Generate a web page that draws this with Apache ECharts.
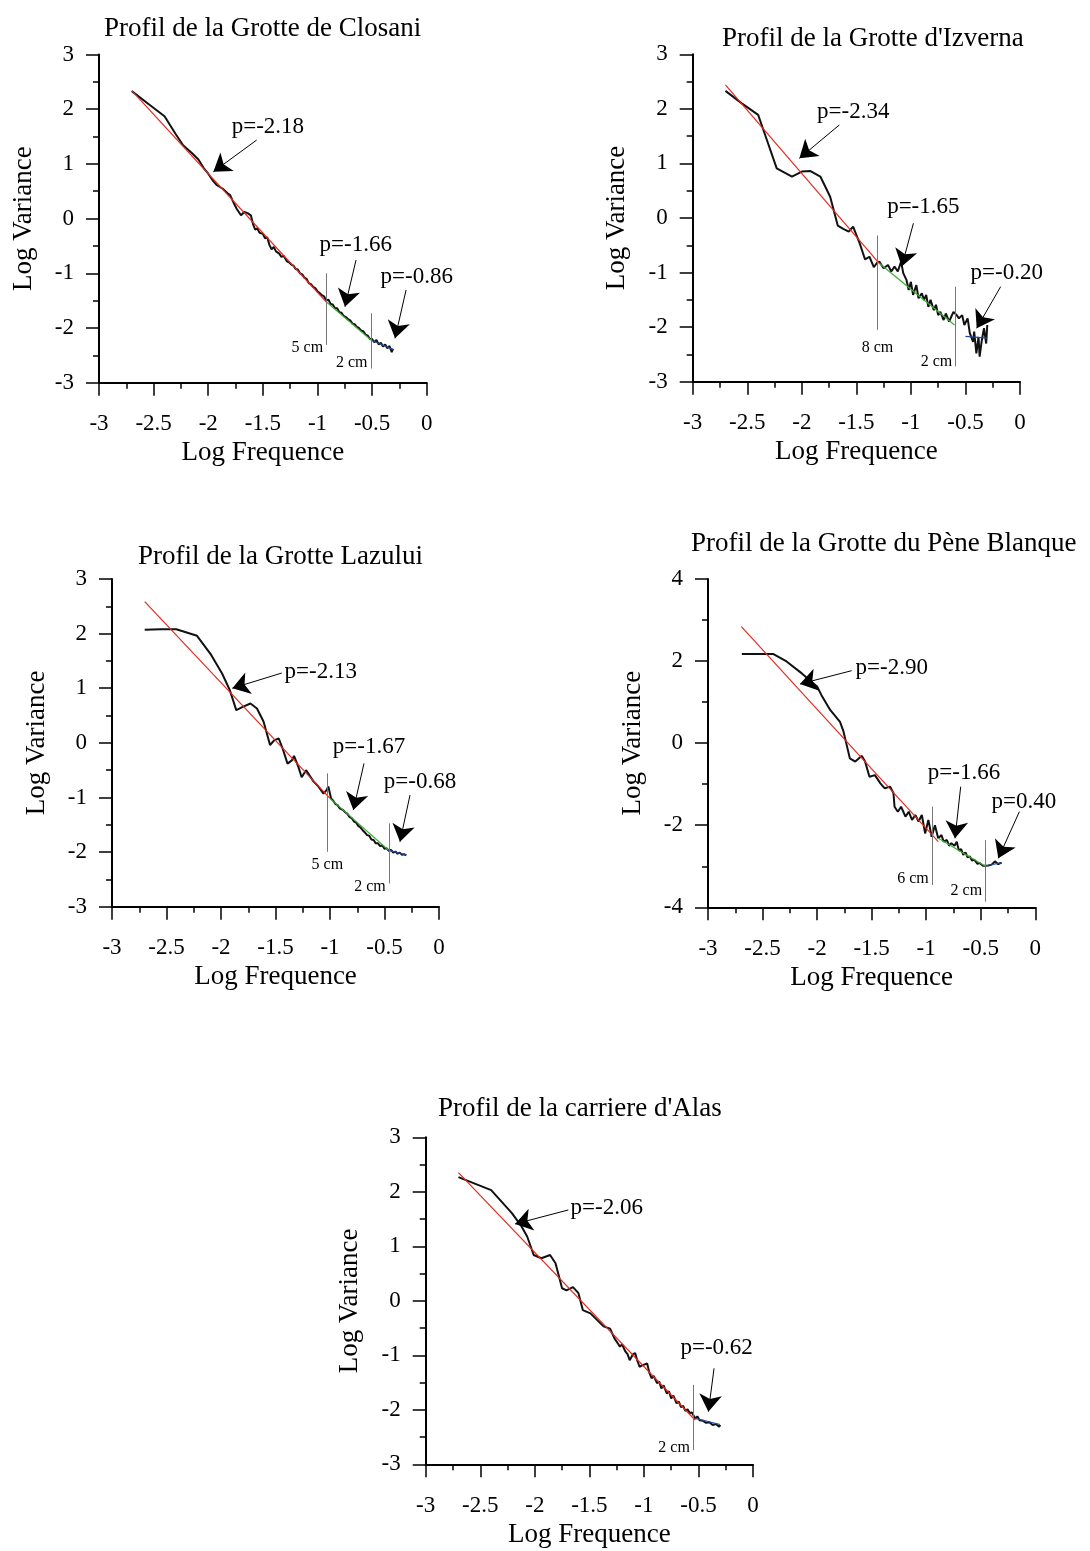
<!DOCTYPE html>
<html><head><meta charset="utf-8">
<script src="https://cdn.jsdelivr.net/npm/echarts@6.0.0/dist/echarts.min.js"></script>
<style>html,body{margin:0;padding:0;background:#fff}#c{width:1090px;height:1551px}</style>
</head><body><div id="c"></div><script>
// ---------- DATA ----------
const titles = ["Profil de la Grotte de Closani","Profil de la Grotte d'Izverna","Profil de la Grotte Lazului","Profil de la Grotte du Pène Blanque","Profil de la carriere d'Alas"];
const xName = "Log Frequence";
const yName = "Log Variance";

// Closani
const closaniCurve = [[-2.70,2.33],[-2.55,2.10],[-2.40,1.87],[-2.30,1.55],[-2.23,1.34],[-2.15,1.20],[-2.09,1.08],[-2.04,0.92],[-2.00,0.82],[-1.96,0.70],[-1.92,0.61],[-1.87,0.55],[-1.82,0.46],[-1.80,0.43],[-1.77,0.30],[-1.74,0.18],[-1.70,0.06],[-1.67,0.12],[-1.64,0.10],[-1.61,0.06],[-1.59,-0.10],[-1.57,-0.20],[-1.55,-0.18],[-1.53,-0.26],[-1.50,-0.28],[-1.48,-0.36],[-1.46,-0.34],[-1.44,-0.48],[-1.42,-0.56],[-1.40,-0.52],[-1.38,-0.60],[-1.35,-0.64],[-1.33,-0.70],[-1.31,-0.68],[-1.28,-0.78],[-1.26,-0.80],[-1.24,-0.84],[-1.22,-0.86],[-1.20,-0.92],[-1.18,-0.93],[-1.16,-1.00],[-1.14,-1.02],[-1.12,-1.08],[-1.10,-1.10],[-1.08,-1.18],[-1.06,-1.20],[-1.04,-1.25],[-1.02,-1.27],[-1.00,-1.33],[-0.98,-1.36],[-0.96,-1.40],[-0.94,-1.42],[-0.92,-1.50],[-0.90,-1.48],[-0.88,-1.56],[-0.86,-1.57],[-0.84,-1.64],[-0.82,-1.64],[-0.80,-1.71],[-0.78,-1.72],[-0.76,-1.78],[-0.74,-1.80],[-0.72,-1.84],[-0.70,-1.86],[-0.68,-1.92],[-0.66,-1.93],[-0.64,-1.98],[-0.62,-2.00],[-0.60,-2.05],[-0.58,-2.06],[-0.56,-2.12],[-0.54,-2.14],[-0.52,-2.20],[-0.50,-2.20],[-0.48,-2.26],[-0.46,-2.22],[-0.44,-2.30],[-0.42,-2.27],[-0.40,-2.34],[-0.38,-2.30],[-0.36,-2.37],[-0.34,-2.33],[-0.32,-2.44],[-0.31,-2.38]];
const closaniRed = [[-2.70,2.34],[-0.92,-1.52]];
const closaniGreen = [[-0.92,-1.52],[-0.51,-2.22]];
const closaniBlue = [[-0.51,-2.22],[-0.30,-2.40]];
const closaniBreaks = [[-0.916,-1.0,-2.31],[-0.51,-1.73,-2.74]];
const closaniArrows = [[-1.557,1.435,-1.953,0.856],[-0.647,-0.758,-0.748,-1.61],[-0.189,-1.306,-0.29,-2.189]];
const closaniNotes = [[-1.454,1.675,'p=-2.18'],[-0.649,-0.483,'p=-1.66'],[-0.091,-1.068,'p=-0.86']];
const closaniCm = [[-0.916,-2.36,'5 cm','left'],[-0.51,-2.645,'2 cm','left']];

// Izverna
const izvernaCurve = [[-2.70,2.33],[-2.55,2.10],[-2.40,1.89],[-2.32,1.43],[-2.23,0.91],[-2.09,0.76],[-2.00,0.85],[-1.92,0.86],[-1.83,0.76],[-1.74,0.39],[-1.67,-0.14],[-1.62,-0.20],[-1.57,-0.25],[-1.53,-0.16],[-1.47,-0.46],[-1.42,-0.76],[-1.38,-0.71],[-1.34,-0.90],[-1.31,-0.82],[-1.29,-0.80],[-1.25,-0.92],[-1.21,-0.86],[-1.18,-0.98],[-1.15,-0.89],[-1.12,-0.98],[-1.09,-0.80],[-1.07,-1.01],[-1.04,-1.14],[-1.02,-1.32],[-1.00,-1.17],[-0.98,-1.41],[-0.95,-1.23],[-0.93,-1.47],[-0.90,-1.38],[-0.88,-1.50],[-0.86,-1.41],[-0.84,-1.63],[-0.82,-1.50],[-0.79,-1.69],[-0.77,-1.59],[-0.75,-1.78],[-0.73,-1.72],[-0.70,-1.87],[-0.68,-1.75],[-0.65,-1.90],[-0.63,-1.81],[-0.61,-1.72],[-0.58,-1.78],[-0.56,-1.84],[-0.53,-1.78],[-0.51,-1.96],[-0.48,-1.84],[-0.46,-2.11],[-0.43,-2.27],[-0.42,-2.08],[-0.40,-2.48],[-0.38,-2.18],[-0.37,-2.54],[-0.35,-2.24],[-0.33,-2.02],[-0.31,-2.30],[-0.30,-1.96]];
const izvernaRed = [[-2.70,2.44],[-1.29,-0.83]];
const izvernaGreen = [[-1.29,-0.83],[-0.60,-1.96]];
const izvernaBlue = [[-0.50,-2.17],[-0.30,-2.20]];
const izvernaBreaks = [[-1.307,-0.32,-2.05],[-0.589,-1.26,-2.72]];
const izvernaArrows = [[-1.656,1.705,-2.022,1.094],[-0.977,-0.097,-1.084,-0.891],[-0.177,-1.258,-0.397,-2.021]];
const izvernaNotes = [[-1.528,1.948,'p=-2.34'],[-0.886,0.207,'p=-1.65'],[-0.122,-1.013,'p=-0.20']];
const izvernaCm = [[-1.307,-2.382,'8 cm','center'],[-0.589,-2.633,'2 cm','left']];

// Lazului
const lazuluiCurve = [[-2.70,2.07],[-2.55,2.08],[-2.41,2.08],[-2.22,1.96],[-2.09,1.61],[-1.99,1.27],[-1.92,0.97],[-1.86,0.60],[-1.80,0.66],[-1.73,0.72],[-1.67,0.63],[-1.61,0.39],[-1.55,-0.04],[-1.51,0.05],[-1.47,0.08],[-1.43,-0.13],[-1.39,-0.38],[-1.35,-0.32],[-1.33,-0.24],[-1.29,-0.44],[-1.26,-0.63],[-1.22,-0.50],[-1.19,-0.59],[-1.15,-0.71],[-1.11,-0.79],[-1.06,-0.93],[-1.03,-0.86],[-1.015,-0.80],[-0.99,-1.02],[-0.97,-1.06],[-0.95,-1.12],[-0.93,-1.14],[-0.91,-1.20],[-0.88,-1.23],[-0.86,-1.27],[-0.84,-1.30],[-0.82,-1.36],[-0.80,-1.38],[-0.78,-1.44],[-0.76,-1.46],[-0.74,-1.52],[-0.72,-1.55],[-0.70,-1.60],[-0.68,-1.64],[-0.66,-1.69],[-0.64,-1.70],[-0.62,-1.77],[-0.60,-1.78],[-0.58,-1.84],[-0.56,-1.84],[-0.54,-1.89],[-0.52,-1.88],[-0.50,-1.94],[-0.48,-1.93],[-0.46,-1.98],[-0.44,-1.96],[-0.42,-2.01],[-0.40,-1.99],[-0.38,-2.03],[-0.36,-2.01],[-0.34,-2.05],[-0.32,-2.04],[-0.30,-2.06]];
const lazuluiRed = [[-2.70,2.585],[-1.0,-1.017]];
const lazuluiGreen = [[-1.0,-1.017],[-0.465,-1.963]];
const lazuluiBlue = [[-0.465,-1.963],[-0.30,-2.055]];
const lazuluiBreaks = [[-1.024,-0.559,-1.994],[-0.456,-1.475,-2.574]];
const lazuluiArrows = [[-1.443,1.278,-1.896,1.0],[-0.688,-0.376,-0.786,-1.231],[-0.266,-0.956,-0.358,-1.811]];
const lazuluiNotes = [[-1.085,1.302,'p=-2.13'],[-0.642,-0.071,'p=-1.67'],[-0.174,-0.712,'p=-0.68']];
const lazuluiCm = [[-1.024,-2.238,'5 cm','center'],[-0.456,-2.635,'2 cm','left']];

// Pene Blanque
const peneCurve = [[-2.69,2.17],[-2.55,2.17],[-2.40,2.17],[-2.28,1.99],[-2.14,1.70],[-2.00,1.38],[-1.96,1.17],[-1.88,0.81],[-1.79,0.52],[-1.76,0.30],[-1.74,0.08],[-1.70,-0.37],[-1.65,-0.45],[-1.59,-0.31],[-1.56,-0.45],[-1.52,-0.82],[-1.47,-0.78],[-1.42,-0.98],[-1.38,-1.10],[-1.33,-1.06],[-1.30,-1.22],[-1.29,-1.55],[-1.26,-1.67],[-1.23,-1.55],[-1.19,-1.79],[-1.16,-1.67],[-1.13,-1.87],[-1.10,-1.75],[-1.07,-1.91],[-1.04,-1.75],[-1.01,-2.20],[-0.98,-1.87],[-0.95,-2.28],[-0.92,-2.00],[-0.89,-2.32],[-0.86,-2.24],[-0.84,-2.40],[-0.81,-2.36],[-0.79,-2.50],[-0.77,-2.44],[-0.74,-2.50],[-0.72,-2.40],[-0.70,-2.62],[-0.68,-2.58],[-0.66,-2.72],[-0.64,-2.66],[-0.62,-2.78],[-0.60,-2.76],[-0.58,-2.86],[-0.56,-2.84],[-0.53,-2.94],[-0.51,-2.92],[-0.48,-2.99],[-0.46,-2.99],[-0.43,-2.98],[-0.40,-2.96],[-0.37,-2.88],[-0.34,-2.95],[-0.31,-2.91]];
const peneRed = [[-2.694,2.838],[-0.889,-2.401]];
const peneGreen = [[-0.889,-2.32],[-0.461,-2.994]];
const peneBlue = [[-0.461,-2.994],[-0.308,-2.913]];
const peneBreaks = [[-0.944,-1.548,-3.457],[-0.455,-2.361,-3.863]];
const peneArrows = [[-1.683,1.766,-2.157,1.441],[-0.684,-1.061,-0.736,-2.32],[-0.146,-1.67,-0.339,-2.807]];
const peneNotes = [[-1.316,1.824,'p=-2.90'],[-0.653,-0.734,'p=-1.66'],[-0.104,-1.426,'p=0.40']];
const peneCm = [[-0.944,-3.317,'6 cm','left'],[-0.455,-3.595,'2 cm','left']];

// Alas
const alasCurve = [[-2.70,2.27],[-2.55,2.15],[-2.40,2.03],[-2.21,1.61],[-2.12,1.36],[-2.07,1.18],[-2.01,0.84],[-1.94,0.78],[-1.86,0.84],[-1.81,0.69],[-1.75,0.23],[-1.71,0.19],[-1.65,0.25],[-1.60,0.14],[-1.56,-0.17],[-1.49,-0.23],[-1.43,-0.35],[-1.37,-0.47],[-1.31,-0.51],[-1.29,-0.60],[-1.27,-0.69],[-1.24,-0.78],[-1.22,-0.84],[-1.20,-0.80],[-1.17,-0.93],[-1.15,-0.98],[-1.13,-1.09],[-1.10,-0.98],[-1.08,-0.96],[-1.06,-1.10],[-1.04,-1.21],[-1.01,-1.18],[-0.97,-1.15],[-0.95,-1.32],[-0.93,-1.42],[-0.91,-1.38],[-0.88,-1.51],[-0.86,-1.48],[-0.84,-1.61],[-0.82,-1.55],[-0.79,-1.70],[-0.77,-1.66],[-0.75,-1.79],[-0.73,-1.74],[-0.70,-1.88],[-0.68,-1.85],[-0.66,-1.95],[-0.64,-1.93],[-0.62,-2.02],[-0.60,-1.99],[-0.58,-2.06],[-0.56,-2.05],[-0.53,-2.16],[-0.51,-2.12],[-0.49,-2.19],[-0.46,-2.20],[-0.43,-2.24],[-0.40,-2.23],[-0.37,-2.28],[-0.34,-2.26],[-0.31,-2.31],[-0.30,-2.28]];
const alasRed = [[-2.70,2.352],[-0.531,-2.187]];
const alasGreen = [];
const alasBlue = [[-0.531,-2.156],[-0.302,-2.27]];
const alasBreaks = [[-0.547,-1.544,-2.737]];
const alasArrows = [[-1.692,1.667,-2.181,1.41],[-0.357,-1.239,-0.409,-2.034]];
const alasNotes = [[-1.341,1.697,'p=-2.06'],[-0.333,-0.872,'p=-0.62']];
const alasCm = [[-0.547,-2.70,'2 cm','left']];

const yRanges = [[-3,3,1],[-3,3,1],[-3,3,1],[-4,4,2],[-3,3,1]];

// ---------- LAYOUT ----------
const FONT = "'Liberation Serif','Times New Roman',serif";
const grids = [[99,54.5,327.7,328.2],[692.7,54.3,327.3,327.4],[112,579,327,327.7],[708,579,327.3,328.3],[425.7,1137.3,327.3,327]];
const titlePos = [[104,15],[722,25],[138,543],[691,530],[438,1095]];

const chart = echarts.init(document.getElementById('c'), null, {renderer:'canvas'});

function xAx(i){
  return {type:'value', gridIndex:i, min:-3, max:0, interval:0.5,
    axisLine:{show:true,onZero:false,lineStyle:{color:'#000',width:2}},
    axisTick:{show:true,length:13,lineStyle:{color:'#000',width:1.5}},
    minorTick:{show:true,splitNumber:2,length:6,lineStyle:{color:'#000',width:1.5}},
    splitLine:{show:false}, minorSplitLine:{show:false},
    axisLabel:{margin:30,fontSize:23,fontFamily:FONT,color:'#000'},
    name:xName, nameLocation:'middle', nameGap:57,
    nameTextStyle:{fontSize:27,fontFamily:FONT,color:'#000'}};
}
function yAx(i){
  const r = yRanges[i];
  return {type:'value', gridIndex:i, min:r[0], max:r[1], interval:r[2],
    axisLine:{show:true,onZero:false,lineStyle:{color:'#000',width:2}},
    axisTick:{show:true,length:13,lineStyle:{color:'#000',width:1.5}},
    minorTick:{show:true,splitNumber:2,length:6,lineStyle:{color:'#000',width:1.5}},
    splitLine:{show:false}, minorSplitLine:{show:false},
    axisLabel:{margin:25,fontSize:23,fontFamily:FONT,color:'#000'},
    name:yName, nameLocation:'middle', nameGap:62,
    nameTextStyle:{fontSize:27,fontFamily:FONT,color:'#000'}};
}

const labelBase = {fontFamily:FONT, color:'#000', opacity:1, textBorderWidth:0, textShadowBlur:0};

function panel(i, curve, red, green, blue, breaks, arrows, notes, cms){
  const ax = {xAxisIndex:i, yAxisIndex:i};
  const s = [];
  s.push({type:'line', ...ax, data:curve, symbol:'none', lineStyle:{color:'#111',width:2}, z:2});
  const fits = [[red,'#e8281e'],[green,'#3fae35'],[blue,'#1f4aa0']];
  fits.forEach(f=>{ if(f[0].length) s.push({type:'line', ...ax, data:f[0], symbol:'none', lineStyle:{color:f[1],width:1.2}, z:3}); });
  s.push({type:'lines', coordinateSystem:'cartesian2d', ...ax, z:4,
    data:breaks.map(b=>({coords:[[b[0],b[1]],[b[0],b[2]]]})),
    lineStyle:{color:'#777',width:1,opacity:1}});
  s.push({type:'lines', coordinateSystem:'cartesian2d', ...ax, z:5,
    symbol:['none','arrow'], symbolSize:17,
    data:arrows.map(a=>({coords:[[a[0],a[1]],[a[2],a[3]]]})),
    lineStyle:{color:'#000',width:1,opacity:1}});
  s.push({type:'scatter', ...ax, z:6, symbolSize:1, itemStyle:{color:'#fff', opacity:0},
    data:notes.map(n=>({value:[n[0],n[1]], name:n[2]})),
    label:{show:true, position:'inside', formatter:p=>p.name, fontSize:23, ...labelBase}});
  s.push({type:'scatter', ...ax, z:6, symbolSize:1, itemStyle:{color:'#fff', opacity:0},
    data:cms.map(n=>({value:[n[0],n[1]], name:n[2], label:{position:n[3]==='left'?'left':'inside', distance:3}})),
    label:{show:true, formatter:p=>p.name, fontSize:16, ...labelBase}});
  return s;
}

const series = [].concat(
  panel(0, closaniCurve, closaniRed, closaniGreen, closaniBlue, closaniBreaks, closaniArrows, closaniNotes, closaniCm),
  panel(1, izvernaCurve, izvernaRed, izvernaGreen, izvernaBlue, izvernaBreaks, izvernaArrows, izvernaNotes, izvernaCm),
  panel(2, lazuluiCurve, lazuluiRed, lazuluiGreen, lazuluiBlue, lazuluiBreaks, lazuluiArrows, lazuluiNotes, lazuluiCm),
  panel(3, peneCurve, peneRed, peneGreen, peneBlue, peneBreaks, peneArrows, peneNotes, peneCm),
  panel(4, alasCurve, alasRed, alasGreen, alasBlue, alasBreaks, alasArrows, alasNotes, alasCm)
);

chart.setOption({
  animation:false,
  backgroundColor:'#fff',
  title: titles.map((t,i)=>({text:t, left:titlePos[i][0], top:titlePos[i][1], padding:0,
    textStyle:{fontFamily:FONT,fontSize:27,fontWeight:'normal',color:'#000'}})),
  grid: grids.map(g=>({left:g[0], top:g[1], width:g[2], height:g[3], containLabel:false, outerBoundsMode:'none'})),
  xAxis: grids.map((g,i)=>xAx(i)),
  yAxis: grids.map((g,i)=>yAx(i)),
  series: series
});
</script></body></html>
